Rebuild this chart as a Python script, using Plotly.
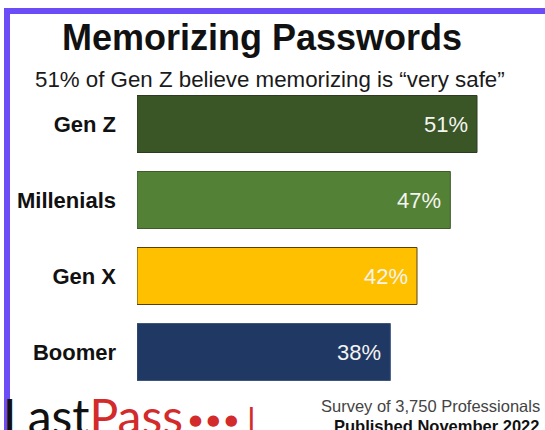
import plotly.graph_objects as go

categories = ["Gen Z", "Millenials", "Gen X", "Boomer"]
values = [51, 47, 42, 38]
value_labels = ["51%", "47%", "42%", "38%"]
bar_colors = ["#3a5626", "#538135", "#ffc000", "#203864"]
bar_lines = ["#2e3a22", "#3f5a2c", "#5a4010", "#3c5680"]

title_text = "Memorizing Passwords"
subtitle_text = "51% of Gen Z believe memorizing is \u201cvery safe\u201d"
footer_line1 = "Survey of 3,750 Professionals"
footer_line2 = "Published November 2022"

W, H = 545, 430
ML, MR, MT, MB = 137, 8, 86, 40
PW = W - ML - MR
PH = H - MT - MB


def px(x):
    return (x - ML) / PW


def py(y):
    return (H - MB - y) / PH


FONT = "Arial, Liberation Sans, sans-serif"
RED = "#d32b2b"

fig = go.Figure()
fig.add_trace(go.Bar(
    x=values,
    y=categories,
    orientation="h",
    marker=dict(color=bar_colors, line=dict(color=bar_lines, width=1)),
    hoverinfo="skip",
))

annotations = []
for c, v, t in zip(categories, values, value_labels):
    annotations.append(dict(
        x=v, y=c, xref="x", yref="y", text=t, showarrow=False,
        xanchor="right", yanchor="middle", xshift=-7,
        font=dict(family=FONT, size=22, color="#f4f4f0"),
    ))

logo = f"<span style='color:#111111'>Last</span><span style='color:{RED}'>Pass</span>"

annotations += [
    dict(x=px(262), y=py(38), xref="paper", yref="paper", text=f"<b>{title_text}</b>",
         showarrow=False, xanchor="center", yanchor="middle",
         font=dict(family=FONT, size=36, color="#111111")),
    dict(x=px(270), y=py(79), xref="paper", yref="paper", text=subtitle_text,
         showarrow=False, xanchor="center", yanchor="middle",
         font=dict(family=FONT, size=22.3, color="#1a1a1a")),
    dict(x=px(542), y=py(406), xref="paper", yref="paper", text=footer_line1,
         showarrow=False, xanchor="right", yanchor="middle",
         font=dict(family=FONT, size=16.5, color="#444444")),
    dict(x=px(541), y=py(426), xref="paper", yref="paper", text=f"<b>{footer_line2}</b>",
         showarrow=False, xanchor="right", yanchor="middle",
         font=dict(family=FONT, size=16.5, color="#111111")),
    dict(x=px(1), y=py(385), xref="paper", yref="paper", text=logo,
         showarrow=False, xanchor="left", yanchor="top",
         font=dict(family="Lato, Open Sans, sans-serif", size=48, color="#111111")),
    dict(x=px(213), y=py(420), xref="paper", yref="paper", text="\u25cf \u25cf \u25cf",
         showarrow=False, xanchor="center", yanchor="middle",
         font=dict(family="DejaVu Sans, sans-serif", size=15, color=RED)),
    dict(x=px(251), y=py(399), xref="paper", yref="paper", text="|",
         showarrow=False, xanchor="center", yanchor="top",
         font=dict(family="DejaVu Sans, sans-serif", size=32, color=RED)),
]

shapes = [
    dict(type="path", xref="paper", yref="paper",
         path=f"M {px(7)},{py(H + 20)} L {px(7)},{py(11)} L {px(W + 20)},{py(11)}",
         line=dict(color="#6b4cf6", width=6)),
]

fig.update_layout(
    width=W, height=H,
    margin=dict(l=ML, r=MR, t=MT, b=MB, pad=0),
    paper_bgcolor="white", plot_bgcolor="white",
    showlegend=False,
    bargap=0.25,
    xaxis=dict(range=[0, 60], visible=False, fixedrange=True),
    yaxis=dict(categoryorder="array", categoryarray=categories, autorange="reversed",
               showgrid=False, zeroline=False, showline=False, ticks="",
               ticklabelstandoff=20,
               tickfont=dict(family=FONT, size=22, color="#111111"),
               fixedrange=True),
    annotations=annotations,
    shapes=shapes,
)

# bold tick labels
fig.update_yaxes(tickvals=categories, ticktext=[f"<b>{c}</b>" for c in categories])

fig.write_html("out.html", config={"displayModeBar": False},
               post_script="document.body.style.margin='0';document.body.style.overflow='hidden';")
